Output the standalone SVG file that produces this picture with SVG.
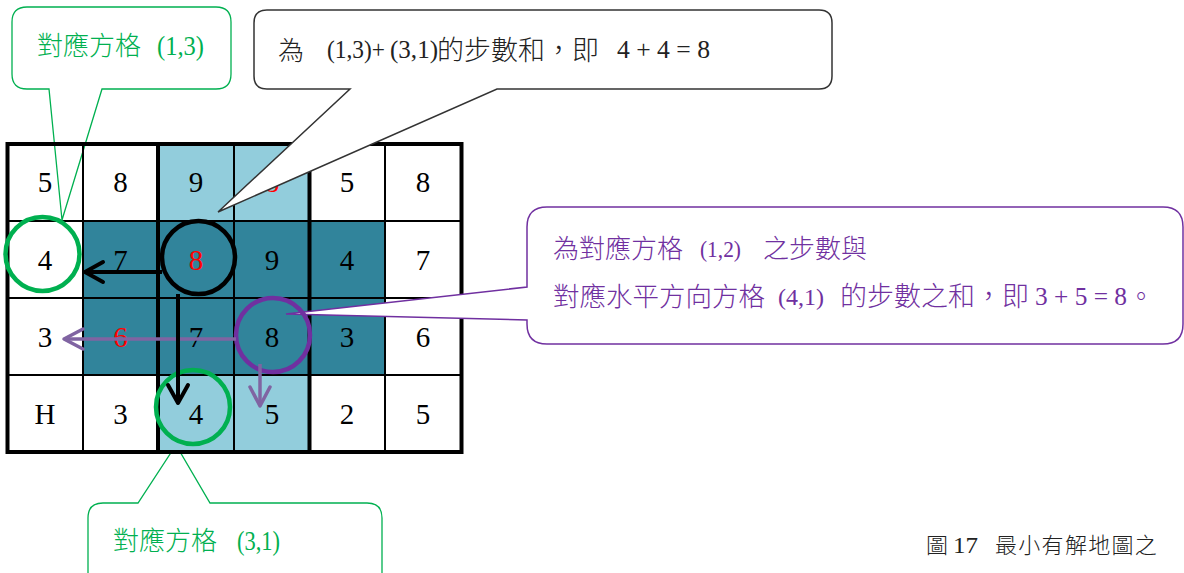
<svg xmlns="http://www.w3.org/2000/svg" width="1184" height="573" viewBox="0 0 1184 573">
<defs>
<style>
.num{font-family:"Liberation Serif",serif;font-size:29px;text-anchor:middle;fill:#000}
.red{fill:#FF0000}
.cjk{font-family:"Noto Sans CJK TC","Noto Sans CJK SC",sans-serif;font-weight:300}
.lat{font-family:"Liberation Serif","Noto Sans CJK TC",serif}
.thin{stroke:#000;stroke-width:2;fill:none}
.thick{stroke:#000;stroke-width:4;fill:none}
.light{fill:#92CDDC}
.dark{fill:#31849B}
.gcall{fill:#fff;stroke:#00B050;stroke-width:1.3}
.bcall{fill:#fff;stroke:#333;stroke-width:1.5}
.pcall{fill:#fff;stroke:#7030A0;stroke-width:1.5}
.gtext{fill:#00B050}
.ptext{fill:#7030A0}
.btext{fill:#222}
.ring{fill:none;stroke-width:4.5}
</style>
<marker id="ahB" markerUnits="userSpaceOnUse" markerWidth="30" markerHeight="30" viewBox="-25 -15 30 30" refX="0" refY="0" orient="auto" overflow="visible">
<path d="M-18,-10 L0,0 L-18,10" fill="none" stroke="#000" stroke-width="4" stroke-linejoin="round" stroke-linecap="round"/>
</marker>
<marker id="ahP" markerUnits="userSpaceOnUse" markerWidth="30" markerHeight="30" viewBox="-25 -15 30 30" refX="0" refY="0" orient="auto" overflow="visible">
<path d="M-19,-10 L0,0 L-19,10" fill="none" stroke="#8064A2" stroke-width="3.5" stroke-linejoin="round" stroke-linecap="round"/>
</marker>
</defs>
<rect x="0" y="0" width="1184" height="573" fill="#fff"/>

<g id="callout-13">
<path class="gcall" d="M27,7 H216 Q231,7 231,22 V74 Q231,89 216,89 H102 L62,220 L49,89 H27 Q12,89 12,74 V22 Q12,7 27,7 Z"/>
<text class="gtext" y="55"><tspan class="cjk" x="37" font-size="26" font-weight="400">對應方格</tspan><tspan class="lat" x="157" font-size="28" textLength="47" lengthAdjust="spacingAndGlyphs">(1,3)</tspan></text>
</g>

<g id="callout-31">
<path class="gcall" d="M103,503 H138 L176,445 L210,503 H367 Q382,503 382,518 V600 H88 V518 Q88,503 103,503 Z"/>
<text class="gtext" y="550"><tspan class="cjk" x="113" font-size="26" font-weight="400">對應方格</tspan><tspan class="lat" x="237" font-size="28" textLength="43" lengthAdjust="spacingAndGlyphs">(3,1)</tspan></text>
</g>

<g id="grid">
<rect class="light" x="158" y="144" width="151.5" height="77"/>
<rect class="light" x="158" y="375" width="151.5" height="77"/>
<rect class="dark" x="83" y="221" width="302" height="154"/>
<line class="thin" x1="83" y1="144" x2="83" y2="452"/>
<line class="thin" x1="234" y1="144" x2="234" y2="452"/>
<line class="thin" x1="385" y1="144" x2="385" y2="452"/>
<line class="thin" x1="7.5" y1="221" x2="461.5" y2="221"/>
<line class="thin" x1="7.5" y1="298" x2="461.5" y2="298"/>
<line class="thin" x1="7.5" y1="375" x2="461.5" y2="375"/>
<line class="thick" x1="158" y1="144" x2="158" y2="452"/>
<line class="thick" x1="309.5" y1="144" x2="309.5" y2="452"/>
<rect class="thick" x="7.5" y="144" width="454" height="308"/>
<text class="num" x="45" y="192">5</text>
<text class="num" x="120.5" y="192">8</text>
<text class="num" x="196" y="192">9</text>
<text class="num red" x="272" y="192">8</text>
<text class="num" x="347" y="192">5</text>
<text class="num" x="423" y="192">8</text>
<text class="num" x="45" y="270">4</text>
<text class="num" x="120.5" y="270">7</text>
<text class="num red" x="196" y="270">8</text>
<text class="num" x="272" y="270">9</text>
<text class="num" x="347" y="270">4</text>
<text class="num" x="423" y="270">7</text>
<text class="num" x="45" y="347">3</text>
<text class="num red" x="120.5" y="347">6</text>
<text class="num" x="196" y="347">7</text>
<text class="num" x="272" y="347">8</text>
<text class="num" x="347" y="347">3</text>
<text class="num" x="423" y="347">6</text>
<text class="num" x="45" y="424">H</text>
<text class="num" x="120.5" y="424">3</text>
<text class="num" x="196" y="424">4</text>
<text class="num" x="272" y="424">5</text>
<text class="num" x="347" y="424">2</text>
<text class="num" x="423" y="424">5</text>
</g>

<g id="callout-sum">
<path class="bcall" d="M267,10 H819 Q832,10 832,23 V76 Q832,89 819,89 H497 L218,212 L350,89 H267 Q254,89 254,76 V23 Q254,10 267,10 Z"/>
<text class="btext"><tspan class="cjk" x="278" y="60" font-size="26">為</tspan><tspan class="lat" x="327" y="58" font-size="26" textLength="58" lengthAdjust="spacingAndGlyphs">(1,3)+</tspan><tspan class="lat" x="390" y="58" font-size="26" textLength="48" lengthAdjust="spacingAndGlyphs">(3,1)</tspan><tspan class="cjk" x="437" y="60" font-size="27">的步數和，即</tspan><tspan class="lat" x="617" y="58" font-size="26" textLength="93" lengthAdjust="spacingAndGlyphs">4 + 4 = 8</tspan></text>
</g>

<g id="callout-purple">
<path class="pcall" d="M547,207 H1163 Q1183,207 1183,227 V324 Q1183,344 1163,344 H547 Q527,344 527,324 V320 L286,314 L527,287 V227 Q527,207 547,207 Z"/>
<text class="ptext"><tspan class="cjk" x="553" y="258" font-size="26">為對應方格</tspan><tspan class="lat" x="700" y="257" font-size="23" textLength="41" lengthAdjust="spacingAndGlyphs">(1,2)</tspan><tspan class="cjk" x="763" y="258" font-size="26">之步數與</tspan></text>
<text class="ptext"><tspan class="cjk" x="553" y="306" font-size="26.5">對應水平方向方格</tspan><tspan class="lat" x="778" y="305" font-size="24" textLength="46" lengthAdjust="spacingAndGlyphs">(4,1)</tspan><tspan class="cjk" x="840" y="306" font-size="27">的步數之和，即</tspan><tspan class="lat" x="1035" y="305" font-size="26" textLength="92" lengthAdjust="spacingAndGlyphs">3 + 5 = 8</tspan><tspan class="cjk" x="1128" y="306" font-size="26">。</tspan></text>
</g>

<g id="circle-13"><circle class="ring" cx="42.5" cy="254" r="37" stroke="#00B050"/></g>
<g id="circle-center"><circle class="ring" cx="198.5" cy="257.5" r="36.5" stroke="#000"/></g>
<g id="circle-purple"><circle class="ring" cx="273" cy="335" r="37" stroke="#7030A0"/></g>
<g id="circle-31"><circle class="ring" cx="193" cy="407" r="37" stroke="#00B050"/></g>

<g id="connectors">
<line x1="236" y1="339" x2="64" y2="339" stroke="#8064A2" stroke-width="3.5" marker-end="url(#ahP)"/>
<line x1="260" y1="364" x2="260" y2="406" stroke="#8064A2" stroke-width="3.5" marker-end="url(#ahP)"/>
<line x1="162" y1="272" x2="85" y2="272" stroke="#000" stroke-width="4" marker-end="url(#ahB)"/>
<line x1="178" y1="294" x2="178" y2="403" stroke="#000" stroke-width="4" marker-end="url(#ahB)"/>
</g>

<g id="caption">
<text class="btext"><tspan class="cjk" x="926" y="553" font-size="22">圖</tspan><tspan class="lat" x="953" y="553" font-size="24" textLength="25" lengthAdjust="spacingAndGlyphs">17</tspan><tspan class="cjk" x="995" y="553" font-size="22" letter-spacing="1.3">最小有解地圖之</tspan></text>
</g>
</svg>
